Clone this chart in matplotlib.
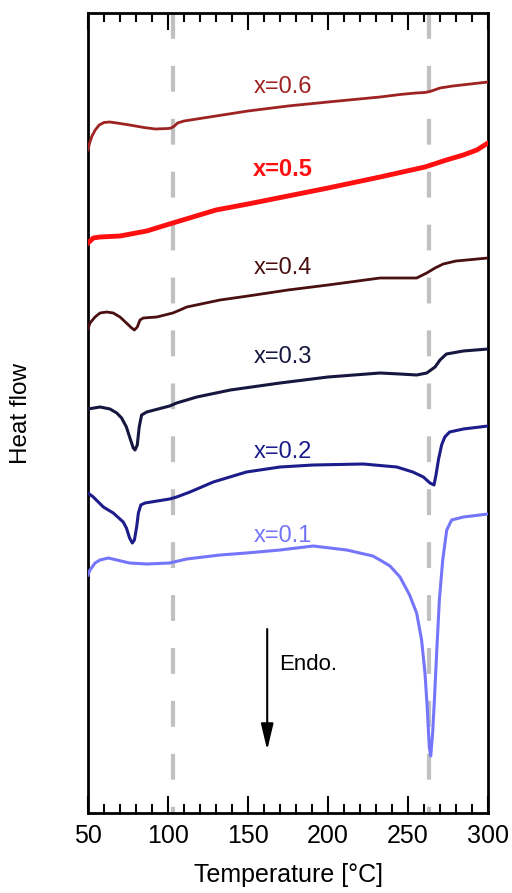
import matplotlib
matplotlib.use("Agg")
import matplotlib.pyplot as plt
from matplotlib.ticker import MultipleLocator
from matplotlib.patches import FancyArrowPatch

plt.rcParams['font.family'] = ['Liberation Sans', 'DejaVu Sans']

# Temperatures (°C) and heat flow (arbitrary units, curves already offset)
T_06 = [50, 51, 52.5, 54.5, 57, 60, 63.5, 68, 76, 85, 92, 100, 102, 104, 106, 110, 130, 150, 175, 200, 232.5, 245, 255, 260.6, 263.75, 270, 278, 300]
H_06 = [663, 670, 677, 683, 688, 690.5, 691, 690, 688, 685.5, 684, 684.5, 685, 687, 690, 692, 697, 702, 707, 711, 716, 718.5, 720, 720.5, 721.5, 725, 727, 731]

T_05 = [50, 53.3, 57.5, 70, 86.7, 103, 130, 150, 175, 200, 232.5, 260.6, 274, 284.6, 293, 300]
H_05 = [570, 575, 576, 577, 582, 590, 603, 609, 617, 625, 636, 646, 653, 658, 663, 670]

T_04 = [50, 51.25, 54.4, 57.5, 61.7, 65.8, 70, 74, 77.3, 79, 80.8, 82.5, 84.6, 93, 103, 107.5, 111.7, 132.5, 150, 175, 200, 232.5, 255.4, 261.7, 266.9, 272, 280, 300]
H_04 = [484, 490, 496, 500, 501, 500, 496, 490, 485, 483, 486, 493, 495, 496, 500, 503, 506, 513, 517, 523, 528, 535, 535, 540, 545, 549, 552, 555]

T_03 = [50, 57.5, 63.75, 68, 71, 74, 76, 78.3, 79.4, 80.8, 82, 83.5, 86.7, 101, 105.4, 118, 139, 170, 200, 232.5, 245, 255.4, 261.7, 266.9, 270, 274, 284.6, 300]
H_03 = [404, 406, 404, 400, 395, 386, 376, 365, 363, 368, 386, 398, 401, 407, 410, 416, 423, 430, 436, 440, 439, 438, 440, 446, 453, 459, 462, 464]

T_02 = [50, 53.3, 59.6, 65.8, 72, 74, 76, 77.7, 79, 80.4, 81.5, 83, 85.6, 101, 105.4, 113.75, 128.3, 149, 170, 190.8, 222, 243, 253, 259.6, 263.75, 266.25, 267.5, 269, 271, 273, 276, 284.6, 300]
H_02 = [320, 316, 306, 300, 291, 285, 275, 270, 273, 286, 300, 308, 310, 314, 316, 321, 331, 341, 346, 348, 349, 346, 341, 336, 330, 328, 338, 353, 368, 376, 381, 384, 387]

T_01 = [50, 51.25, 54.4, 57.5, 62.7, 68, 76, 86.7, 101, 111.7, 132.5, 149, 170, 190.8, 211.7, 228, 232.5, 238.75, 245, 251, 255.4, 258.5, 260.6, 262, 263.3, 264.2, 265.4, 266.5, 268, 269.6, 271.7, 274.2, 277.3, 284.6, 300]
H_01 = [238, 243, 250, 253, 255, 253, 250, 249, 250, 254, 258, 260, 263, 267, 263, 257, 253, 247, 236, 218, 200, 173, 140, 106, 66, 57, 80, 113, 163, 213, 253, 283, 293, 296, 299]

labels = ['x=0.6', 'x=0.5', 'x=0.4', 'x=0.3', 'x=0.2', 'x=0.1']
label_T = [172, 172, 172, 172, 172, 172]
label_H = [726, 643, 545, 456, 361, 277]
colors = ['#9e2222', '#ff1010', '#4a0f10', '#16163f', '#1c1c8a', '#7575fa']
widths = [2.0, 3.5, 2.0, 2.2, 2.2, 2.2]
guide_T = [103, 263]

series = [(T_06, H_06), (T_05, H_05), (T_04, H_04), (T_03, H_03), (T_02, H_02), (T_01, H_01)]

fig = plt.figure(figsize=(5.12, 8.93), dpi=100)
ax = fig.add_axes([88/512, 1-813/893, 400/512, 800/893])

for gx in guide_T:
    ln, = ax.plot([gx, gx], [800, 0], color='#c0c0c0', lw=3, solid_capstyle='butt', zorder=1)
    ln.set_dashes((6.2, 6.5))
    ln.set_dash_capstyle('butt')

for (T, H), c, w, lab, lt, lh in zip(series, colors, widths, labels, label_T, label_H):
    ax.plot(T, H, color=c, lw=w, zorder=3, solid_joinstyle='round')
    ax.text(lt, lh, lab, color=c, fontsize=17, ha='center', va='center',
            fontweight='bold' if lab == 'x=0.5' else 'normal')

arr = FancyArrowPatch((162, 184), (162, 63), arrowstyle='-|>,head_length=16,head_width=3.8',
                      mutation_scale=1, color='black', lw=1.5, shrinkA=0, shrinkB=0)
ax.add_patch(arr)
ax.text(169.5, 148, 'Endo.', fontsize=16, ha='left', va='center')

ax.set_xlim(50, 300)
ax.set_ylim(0, 800)
ax.xaxis.set_major_locator(MultipleLocator(50))
ax.xaxis.set_minor_locator(MultipleLocator(10))
ax.tick_params(axis='x', which='major', direction='in', top=True, bottom=True, length=12, width=1.5, labelsize=18, pad=8)
ax.tick_params(axis='x', which='minor', direction='in', top=True, bottom=True, length=6.5, width=1.5)
ax.set_yticks([])
for s in ax.spines.values():
    s.set_linewidth(2)
ax.set_xlabel('Temperature [°C]', fontsize=18, labelpad=11)
ax.set_ylabel('Heat flow', fontsize=17.5, labelpad=40)

fig.savefig('out.png', dpi=100)
